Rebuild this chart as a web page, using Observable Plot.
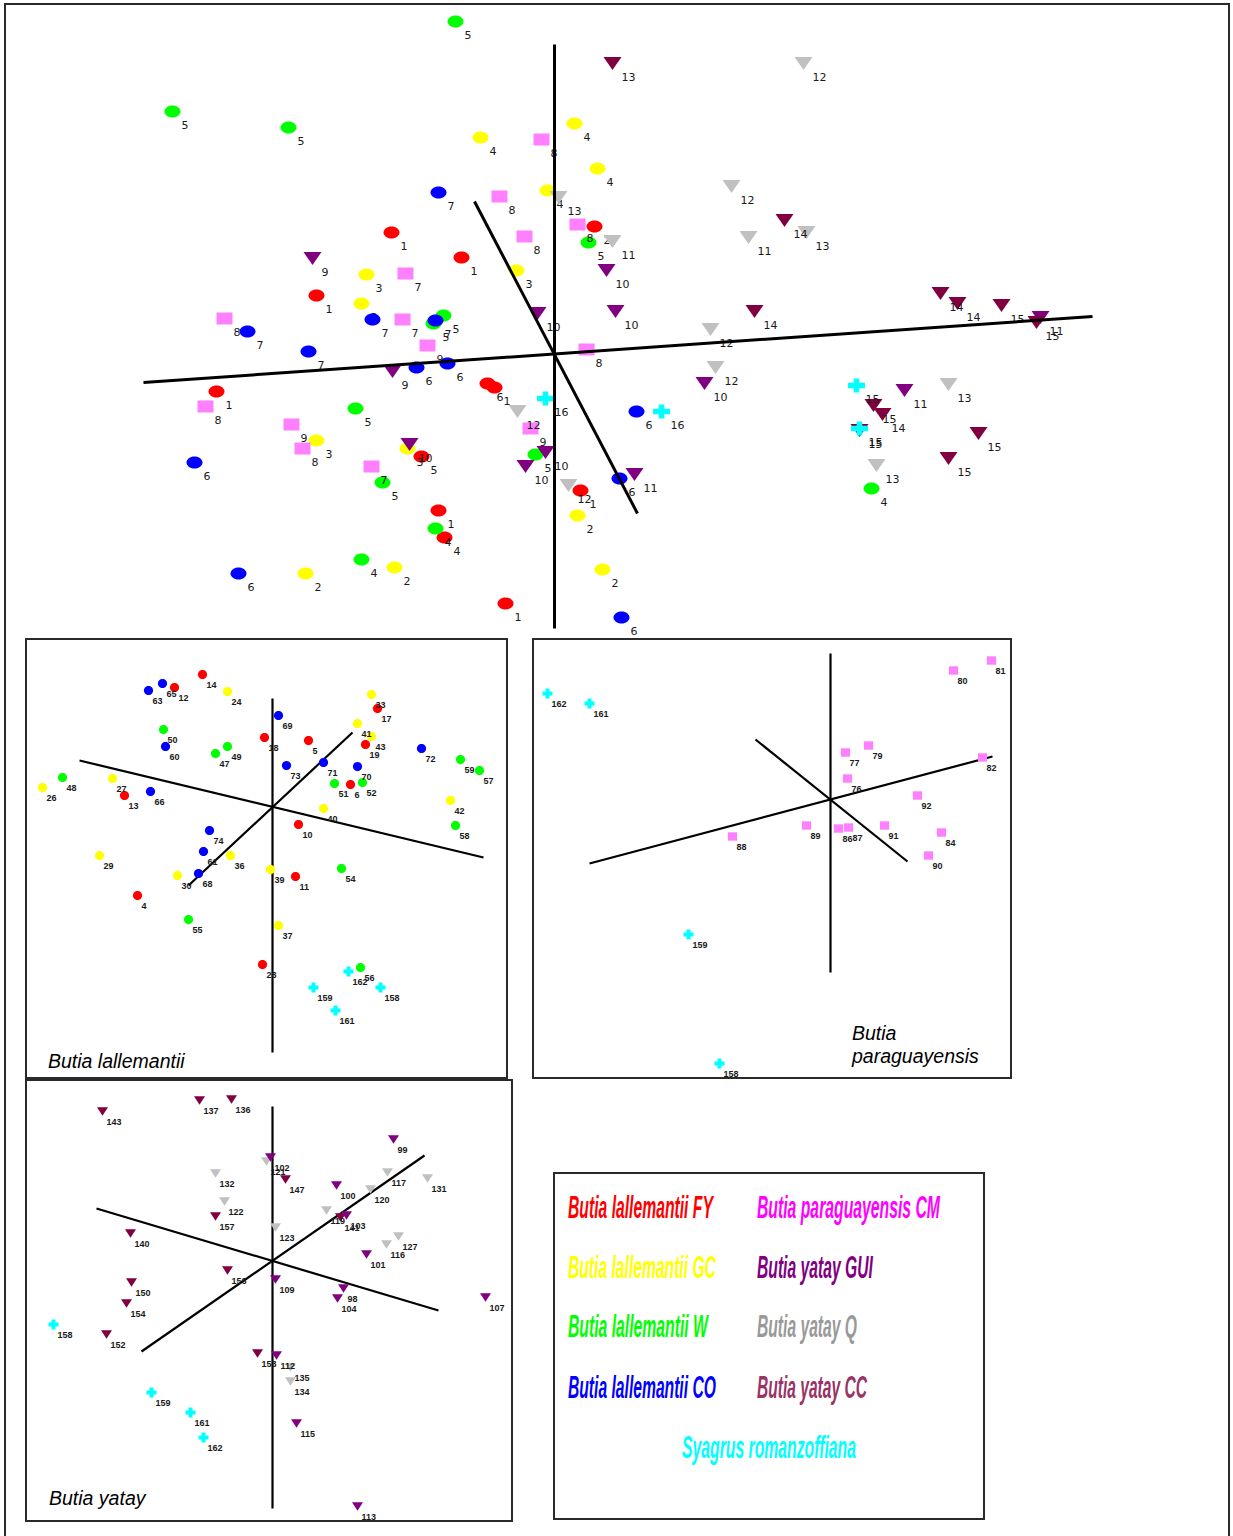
<!DOCTYPE html>
<html><head><meta charset="utf-8">
<script src="https://cdn.jsdelivr.net/npm/d3@7"></script>
<script src="https://cdn.jsdelivr.net/npm/@observablehq/plot@0.6"></script>
<style>
body{margin:0;background:#fff;}
#page{position:relative;width:1233px;height:1536px;overflow:hidden;background:#fff;}
.frame{position:absolute;box-sizing:border-box;border:2px solid #2a2a2a;pointer-events:none;}
.pl{position:absolute;}
.pl svg{overflow:visible;background:transparent;}
</style></head><body><div id="page"></div>
<script>
// ---------- DATA (projected scores, relative to each panel's axis origin; y up) ----------
// Main panel: groups of [x, y, locality label]
const mainFY = [[-163,122,"1"],[-93,97,"1"],[-238,59,"1"],[40,128,"2"],[-338,-37,"1"],[-67,-29,"6"],[-60,-33,"1"],[-133,-102,"5"],[-116,-156,"1"],[-110,-183,"4"],[26,-136,"1"],[-49,-249,"1"]];
const mainGC = [[-74,217,"4"],[20,231,"4"],[43,186,"4"],[-7,164,"4"],[-188,80,"3"],[-38,84,"3"],[-193,51,"3"],[-238,-86,"3"],[-147,-94,"3"],[23,-161,"2"],[-160,-213,"2"],[-249,-219,"2"],[48,-215,"2"]];
const mainW = [[-99,333,"5"],[-382,243,"5"],[-266,227,"5"],[34,112,"5"],[-121,31,"5"],[-111,39,"5"],[-199,-54,"5"],[-172,-128,"5"],[-119,-174,"4"],[-19,-100,"5"],[317,-134,"4"],[-193,-205,"4"]];
const mainCO = [[-116,162,"7"],[-307,23,"7"],[-182,35,"7"],[-119,34,"7"],[-246,3,"7"],[-138,-13,"6"],[-107,-9,"6"],[-360,-108,"6"],[82,-57,"6"],[65,-124,"6"],[-316,-219,"6"],[67,-263,"6"]];
const mainCM = [[-13,215,"8"],[-55,158,"8"],[-30,118,"8"],[23,130,"8"],[-149,81,"7"],[-330,36,"8"],[-152,35,"7"],[-127,9,"9"],[32,5,"8"],[-349,-52,"8"],[-263,-70,"9"],[-252,-94,"8"],[-24,-74,"9"],[-183,-112,"7"]];
const mainGUI = [[-242,96,"9"],[52,84,"10"],[-17,41,"10"],[61,43,"10"],[486,37,"11"],[-162,-17,"9"],[150,-29,"10"],[-145,-90,"10"],[-9,-98,"10"],[-29,-112,"10"],[80,-120,"11"],[350,-36,"11"]];
const mainQ = [[249,291,"12"],[4,157,"13"],[177,168,"12"],[194,117,"11"],[252,122,"13"],[58,113,"11"],[156,25,"12"],[161,-13,"12"],[-37,-57,"12"],[14,-131,"12"],[394,-30,"13"],[322,-111,"13"]];
const mainCC = [[58,291,"13"],[230,134,"14"],[200,43,"14"],[386,61,"14"],[403,51,"14"],[447,49,"15"],[482,32,"15"],[319,-51,"15"],[328,-60,"14"],[305,-76,"15"],[424,-79,"15"],[394,-104,"15"]];
const mainSR = [[-9,-44,"16"],[107,-57,"16"],[302,-31,"15"],[305,-74,"15"]];
const mainAxes = [[0,310,0,-274],[-411,-28,538,38],[-80,153,83,-159]];

// Butia lallemantii panel
const lalFY = [[-70,132,"14"],[-98,119,"12"],[-8,69,"18"],[-148,11,"13"],[-135,-89,"4"],[-10,-158,"28"],[105,98,"17"],[93,62,"19"],[36,66,"5"],[78,22,"6"],[26,-18,"10"],[23,-70,"11"]];
const lalGC = [[-45,115,"24"],[-230,19,"26"],[-160,28,"27"],[-42,-49,"36"],[-173,-49,"29"],[-95,-69,"30"],[-2,-63,"39"],[99,112,"33"],[85,83,"41"],[99,70,"43"],[51,-2,"40"],[178,6,"42"],[6,-119,"37"]];
const lalW = [[-109,77,"50"],[-45,60,"49"],[-57,53,"47"],[-210,29,"48"],[-84,-113,"55"],[62,23,"51"],[90,24,"52"],[188,47,"59"],[207,36,"57"],[183,-19,"58"],[69,-62,"54"],[88,-161,"56"]];
const lalCO = [[-110,123,"65"],[-124,116,"63"],[-107,60,"60"],[-122,15,"66"],[-63,-24,"74"],[-69,-45,"61"],[-74,-67,"68"],[6,91,"69"],[14,41,"73"],[51,44,"71"],[85,40,"70"],[149,58,"72"]];
const lalSR = [[76,-165,"162"],[41,-181,"159"],[108,-181,"158"],[63,-204,"161"]];
const lalAxes = [[0,108,0,-246],[-193,46,211,-51],[80,74,-84,-79]];

// Butia paraguayensis panel
const parCM = [[161,139,"81"],[123,129,"80"],[38,54,"79"],[15,47,"77"],[152,42,"82"],[17,21,"76"],[87,4,"92"],[-24,-26,"89"],[8,-29,"86"],[18,-28,"87"],[54,-26,"91"],[111,-33,"84"],[-98,-37,"88"],[98,-56,"90"]];
const parSR = [[-283,106,"162"],[-241,96,"161"],[-142,-135,"159"],[-111,-264,"158"]];
const parAxes = [[0,146,0,-173],[-241,-64,162,43],[-75,60,77,-62]];

// Butia yatay panel
const yatGUI = [[-2,104,"102"],[121,122,"99"],[64,76,"100"],[74,46,"103"],[94,7,"101"],[3,-18,"109"],[71,-27,"98"],[65,-37,"104"],[213,-36,"107"],[4,-94,"112"],[24,-162,"115"],[85,-245,"113"]];
const yatQ = [[-6,100,"121"],[-57,88,"132"],[-48,60,"122"],[115,89,"117"],[155,83,"131"],[98,72,"120"],[54,51,"119"],[3,34,"123"],[126,25,"127"],[114,17,"116"],[18,-106,"135"],[18,-120,"134"]];
const yatCC = [[-170,150,"143"],[-73,161,"137"],[-41,162,"136"],[13,82,"147"],[-57,45,"157"],[-142,28,"140"],[-45,-9,"156"],[-141,-21,"150"],[-146,-42,"154"],[-166,-73,"152"],[-15,-92,"153"],[68,44,"141"]];
const yatSR = [[-219,-63,"158"],[-121,-131,"159"],[-82,-151,"161"],[-69,-176,"162"]];
const yatAxes = [[0,155,0,-247],[-176,53,166,-49],[-131,-90,152,106]];

// Legend
const legendNames = ["Butia lallemantii FY","Butia lallemantii GC","Butia lallemantii W","Butia lallemantii CO","Butia paraguayensis CM","Butia yatay GUI","Butia yatay Q","Butia yatay CC","Syagrus romanzoffiana"];
const panelTitles = ["Butia lallemantii","Butia paraguayensis","Butia yatay"];

// ---------- STYLES ----------
const colors = {FY:"#FF0000",GC:"#FFFF00",W:"#00FF00",CO:"#0000FF",CM:"#FF80FF",GUI:"#800080",Q:"#C0C0C0",CC:"#800040",SR:"#00FFFF"};
const legendColors = ["#FF0000","#FFFF00","#00FF00","#0000FF","#FF00FF","#800080","#999999","#993366","#00FFFF"];

function unit(s){return Math.sqrt(s/Math.PI);}
const ellipse=(a,b)=>({draw(c,s){const k=unit(s),x=a*k,y=b*k,m=0.5523;c.moveTo(x,0);c.bezierCurveTo(x,y*m,x*m,y,0,y);c.bezierCurveTo(-x*m,y,-x,y*m,-x,0);c.bezierCurveTo(-x,-y*m,-x*m,-y,0,-y);c.bezierCurveTo(x*m,-y,x,-y*m,x,0);c.closePath();}});
const rect=(a,b)=>({draw(c,s){const k=unit(s);c.moveTo(-a*k,-b*k);c.lineTo(a*k,-b*k);c.lineTo(a*k,b*k);c.lineTo(-a*k,b*k);c.closePath();}});
const tri=(a,b)=>({draw(c,s){const k=unit(s);c.moveTo(-a*k,-b*k);c.lineTo(a*k,-b*k);c.lineTo(0,b*k);c.closePath();}});
const cross=(a,b,t)=>({draw(c,s){const k=unit(s);const P=[[-t,-b],[t,-b],[t,-t],[a,-t],[a,t],[t,t],[t,b],[-t,b],[-t,t],[-a,t],[-a,-t],[-t,-t]];c.moveTo(P[0][0]*k,P[0][1]*k);for(const p of P.slice(1))c.lineTo(p[0]*k,p[1]*k);c.closePath();}});

const bigSym = {FY:ellipse(8,6),GC:ellipse(8,6),W:ellipse(8,6),CO:ellipse(8,6),CM:rect(8,6),GUI:tri(9,6.5),Q:tri(9,6.5),CC:tri(9,6.5),SR:cross(8.5,7,2.8)};
const smallSym = {FY:ellipse(4.6,4.6),GC:ellipse(4.6,4.6),W:ellipse(4.6,4.6),CO:ellipse(4.6,4.6),CM:rect(4.6,4.2),GUI:tri(5.5,4.3),Q:tri(5.5,4.3),CC:tri(5.5,4.3),SR:cross(5,5,2)};

const rows = a => a.map(([x,y,label])=>({x,y,label}));
const segs = a => a.map(([x1,y1,x2,y2])=>({x1,y1,x2,y2}));

const page = document.getElementById("page");

function panel(box, layers, axes, o){
  const axisMark = Plot.link(segs(axes),{x1:"x1",y1:"y1",x2:"x2",y2:"y2",stroke:"#000",strokeWidth:o.aw,strokeLinecap:"butt"});
  const marks = [];
  if(!o.axesOnTop) marks.push(axisMark);
  for(const [key,data] of layers){
    const sym = (o.big?bigSym:smallSym)[key];
    marks.push(Plot.dot(rows(data),{x:"x",y:"y",symbol:sym,r:1,fill:colors[key],stroke:"none"}));
    marks.push(Plot.text(rows(data),{x:"x",y:"y",text:"label",dx:o.dx,dy:o.dy,textAnchor:"start",fontSize:o.fs,fontFamily:o.ff,fontWeight:o.fw,fill:"#1a1a1a"}));
  }
  if(o.axesOnTop) marks.push(axisMark);
  const svg = Plot.plot({
    width:box.width,height:box.height,margin:0,
    x:{domain:[box.left-box.ox, box.left+box.width-box.ox],range:[0,box.width],axis:null},
    y:{domain:[box.oy-(box.top+box.height), box.oy-box.top],range:[box.height,0],axis:null},
    style:{background:"transparent",overflow:"visible"},
    marks
  });
  const d = document.createElement("div");
  d.className="pl";
  d.style.left=box.left+"px"; d.style.top=box.top+"px";
  d.style.width=box.width+"px"; d.style.height=box.height+"px";
  d.appendChild(svg);
  page.appendChild(d);
}

const bigOpt = {big:true,aw:3,dx:9,dy:14,fs:11,ff:"'DejaVu Sans',Verdana,sans-serif",fw:"normal",axesOnTop:true};
const smallOpt = {big:false,aw:2.2,dx:4,dy:10.5,fs:9,ff:"'Liberation Sans',Arial,sans-serif",fw:"bold",axesOnTop:false};

panel({left:0,top:0,width:1233,height:638,ox:554,oy:354},
  [["FY",mainFY],["GC",mainGC],["W",mainW],["CO",mainCO],["CM",mainCM],["GUI",mainGUI],["Q",mainQ],["CC",mainCC],["SR",mainSR]], mainAxes, bigOpt);
panel({left:26,top:639,width:481,height:439,ox:272,oy:806},
  [["FY",lalFY],["GC",lalGC],["W",lalW],["CO",lalCO],["SR",lalSR]], lalAxes, smallOpt);
panel({left:533,top:639,width:478,height:439,ox:830,oy:799},
  [["CM",parCM],["SR",parSR]], parAxes, smallOpt);
panel({left:26,top:1080,width:486,height:441,ox:272,oy:1261},
  [["CC",yatCC],["Q",yatQ],["GUI",yatGUI],["SR",yatSR]], yatAxes, smallOpt);

// frames
function frame(l,t,w,h){const f=document.createElement("div");f.className="frame";Object.assign(f.style,{left:l+"px",top:t+"px",width:w+"px",height:h+"px"});page.appendChild(f);}
frame(4,3,1226,1560);
frame(25,638,483,441);
frame(532,638,480,441);
frame(25,1079,488,443);
frame(553,1172,432,348);

// titles and legend text
const ov = d3.create("svg").attr("width",1233).attr("height",1536)
  .style("position","absolute").style("left","0px").style("top","0px").style("overflow","visible");
page.appendChild(ov.node());
const tfont = "'Liberation Sans',Arial,sans-serif";
const tt = (txt,x,y)=>ov.append("text").attr("x",x).attr("y",y).attr("font-family",tfont).attr("font-style","italic").attr("font-size",19.5).attr("fill","#000").text(txt);
tt(panelTitles[0],48,1068);
tt("Butia",852,1040);
tt("paraguayensis",852,1063);
tt(panelTitles[2],49,1505);

const legPos = [[568,1218,145],[568,1278,148],[568,1337,140],[568,1398,148],[757,1218,183],[757,1278,116],[757,1337,100],[757,1398,110],[682,1458,174]];
legendNames.forEach((n,i)=>{
  const [x,y,w]=legPos[i];
  const t = ov.append("text").attr("x",0).attr("y",0).attr("font-family",tfont).attr("font-weight","bold").attr("font-style","italic")
    .attr("font-size",31).attr("fill",legendColors[i]).text(n);
  const len = t.node().getComputedTextLength() || w;
  t.attr("transform",`translate(${x},${y}) scale(${w/len},1)`);
});
</script></body></html>
